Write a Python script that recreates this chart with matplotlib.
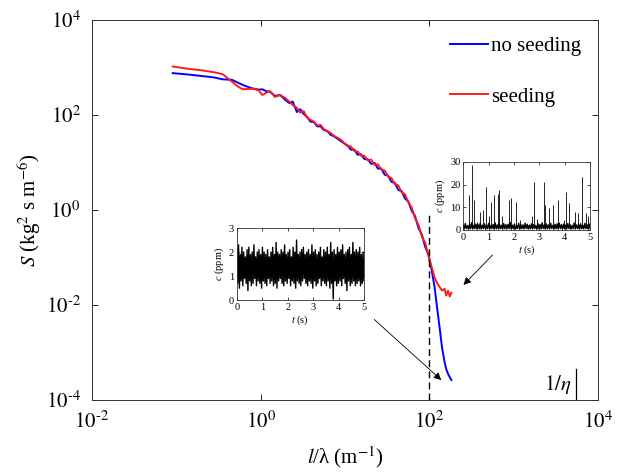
import numpy as np
import matplotlib
matplotlib.use('Agg')
import matplotlib.pyplot as plt
from matplotlib.ticker import FuncFormatter

plt.rcParams['font.family'] = ['Liberation Serif', 'DejaVu Serif']
plt.rcParams['mathtext.fontset'] = 'stix'
plt.rcParams['axes.unicode_minus'] = False

# spectrum: wavenumber and energy for both cases
k = [0.091, 0.141, 0.20, 0.28, 0.355, 0.457, 0.537, 0.617, 0.76, 0.91,
     1.05, 1.17, 1.29, 1.48, 1.70, 1.95, 2.19, 2.40, 2.69, 2.95,
     3.24, 3.55, 3.89, 4.27, 4.68, 5.13, 5.62, 6.17, 6.76, 7.41,
     8.13, 8.91, 9.77, 10.7, 11.7, 12.9, 14.1, 15.5, 17.0, 18.6,
     20.4, 22.4, 24.5, 26.9, 29.5, 32.4, 35.5, 38.9, 42.7, 46.8,
     51.3, 56.2, 61.7, 67.6, 74.1, 81.3, 89.1, 97.7, 107, 115,
     123, 132, 141, 151, 158, 166, 174, 182]
S_noseed = [759, 708, 661, 617, 562, 550, 479, 427, 372, 339,
            347, 316, 309, 251, 263, 209, 178, 191, 115, 132,
            105, 91.2, 72.4, 70.8, 57.5, 57.5, 47.9, 45.7, 38.0, 35.5,
            31.6, 28.2, 25.1, 22.9, 18.6, 18.6, 14.5, 14.8, 11.7, 11.7,
            9.33, 9.77, 7.41, 7.41, 5.50, 5.25, 3.89, 3.72, 2.63, 2.51,
            1.74, 1.51, 0.955, 0.741, 0.417, 0.302, 0.166, 0.112, 0.0501, 0.0240,
            0.00891, 0.00331, 0.00126, 6.31e-4, 4.47e-4, 3.55e-4, 3.02e-4, 2.63e-4]
S_seed = [1047, 933, 871, 794, 724, 501, 398, 347, 355, 355,
          263, 295, 316, 240, 263, 229, 191, 162, 141, 112,
          120, 87.1, 79.4, 72.4, 60.3, 61.7, 50.1, 45.7, 41.7, 36.3,
          33.1, 30.2, 25.7, 21.9, 21.9, 17.4, 17.0, 13.8, 13.8, 11.0,
          11.5, 8.91, 9.12, 7.08, 6.76, 5.01, 4.68, 3.47, 3.31, 2.34,
          2.14, 1.45, 1.12, 0.661, 0.490, 0.275, 0.204, 0.105, 0.0603, 0.0380,
          0.0288, 0.0240, 0.0200, 0.0219, 0.0158, 0.0200, 0.0151, 0.0182]

# inset time series (ppm)
c_noseed = [2.1, 0.7, 2.3, 0.5, 1.9, 0.8, 2.2, 0.6, 2.0, 0.9,
            1.8, 0.7, 2.1, 0.4, 2.2, 0.8, 1.9, 0.6, 2.0, 0.7,
            2.3, 0.9, 1.8, 0.6, 2.0, 0.8, 2.1, 0.7, 1.9, 0.5,
            2.2, 0.8, 2.0, 0.7, 1.9, 0.6, 2.1, 0.9, 1.8, 0.7,
            2.0, 0.8, 2.2, 0.6, 1.9, 0.7, 2.4, 0.5, 2.0, 0.8,
            1.9, 0.9, 2.1, 0.7, 2.0, 0.6, 2.3, 0.8, 1.9, 0.7,
            2.0, 0.9, 2.1, 0.6, 1.8, 0.8, 2.2, 0.7, 2.0, 0.5,
            2.5, 0.8, 1.9, 0.7, 2.0, 0.6, 2.1, 0.8, 2.2, 0.9,
            1.9, 0.7, 2.0, 0.6, 2.1, 0.8, 1.9, 0.7, 2.3, 0.5,
            2.0, 0.8, 2.1, 0.6, 1.9, 0.7, 2.0, 0.9, 2.2, 0.6,
            1.8, 0.8, 2.1, 0.7, 2.0, 0.6, 2.2, 0.8, 1.9, 0.5,
            2.4, 0.7, 2.0, 0.05, 2.1, 0.8, 1.9, 0.6, 2.2, 0.7,
            2.0, 0.8, 2.1, 0.6, 2.3, 0.9, 1.9, 0.7, 2.0, 0.4,
            2.1, 0.8, 2.2, 0.6, 1.9, 0.7, 2.4, 0.8, 2.0, 0.6,
            2.1, 0.7, 2.0, 0.8, 2.2, 0.6, 1.9, 0.7, 2.0, 0.8]
c_seed_base = [2.2, 0.4, 2.8, 0.6, 1.9, 0.3, 2.5, 0.5, 3.2, 0.4,
               2.0, 0.6, 2.6, 0.3, 2.3, 0.5, 3.0, 0.4, 2.1, 0.6,
               2.7, 0.3, 2.2, 0.5, 2.9, 0.4, 2.0, 0.6, 2.4, 0.3,
               3.1, 0.5, 2.2, 0.4, 2.6, 0.6, 2.0, 0.3, 2.8, 0.5,
               2.3, 0.4, 2.5, 0.6, 3.3, 0.3, 2.1, 0.5, 2.6, 0.4,
               2.0, 0.6, 2.9, 0.3, 2.4, 0.5, 2.2, 0.4, 3.0, 0.6,
               2.5, 0.3, 2.1, 0.5, 2.7, 0.4, 2.3, 0.6, 2.0, 0.3,
               2.8, 0.5, 2.4, 0.4, 3.2, 0.6, 2.1, 0.3, 2.6, 0.5,
               2.2, 0.4, 2.9, 0.6, 2.0, 0.3, 2.5, 0.5, 2.7, 0.4,
               3.0, 0.6, 2.3, 0.3, 2.6, 0.5, 2.1, 0.4, 2.8, 0.6,
               2.4, 0.3, 2.0, 0.5, 3.1, 0.4, 2.2, 0.6, 2.5, 0.3,
               2.7, 0.5, 2.1, 0.4, 2.9, 0.6, 2.3, 0.3, 2.6, 0.5]
spike_t = [0.22, 0.35, 0.42, 0.55, 0.65, 0.79, 0.88, 1.0, 1.11, 1.2,
           1.36, 1.43, 1.53, 1.82, 1.9, 2.08, 2.23, 2.71, 2.8, 2.9,
           3.17, 3.23, 3.36, 3.52, 3.73, 3.95, 4.04, 4.17, 4.41, 4.5,
           4.67, 4.83, 4.93]
spike_c = [15.4, 28.5, 13.0, 3.7, 8.0, 9.0, 19.0, 6.0, 12.4, 15.4,
           16.0, 17.5, 6.0, 13.0, 14.0, 12.4, 4.4, 6.0, 21.0, 5.0,
           21.2, 11.0, 9.5, 11.0, 13.0, 4.4, 16.8, 11.7, 8.0, 7.3,
           23.4, 7.3, 6.0]

k_eta = 5400

fig = plt.figure(figsize=(6.2, 4.75), dpi=100)
ax = fig.add_axes([0.148, 0.158, 0.817, 0.800])

ax.loglog(k, S_noseed, color='#0000ff', lw=1.4, label='no seeding')
ax.loglog(k, S_seed, color='#ff1a1a', lw=1.4, label='seeding')
ax.plot([100, 100], [1e-4, 0.9], 'k--', lw=1.0, dashes=(5, 3))
ax.plot([k_eta, k_eta], [1e-4, 4.5e-4], 'k-', lw=0.9)
ax.text(k_eta * 0.88, 2.1e-4, r'$1/\eta$', fontsize=15, ha='right', va='center')

ax.set_xlim(1e-2, 1e4)
ax.set_ylim(1e-4, 1e4)
ax.set_xticks([1e-2, 1e0, 1e2, 1e4])
ax.set_yticks([1e-4, 1e-2, 1e0, 1e2, 1e4])
ax.minorticks_off()
# hyphen-style exponent like the original figure
dec = FuncFormatter(lambda v, p: r'$10^{\text{-}%d}$' % round(-np.log10(v))
                    if v < 1 else r'$10^{%d}$' % round(np.log10(v)))
ax.xaxis.set_major_formatter(dec)
ax.yaxis.set_major_formatter(dec)
ax.tick_params(direction='in', top=True, right=True, length=4, width=0.6,
               labelsize=15, pad=8)
for sp in ax.spines.values():
    sp.set_linewidth(0.7)
    sp.set_color('#333333')

ax.set_xlabel('$l$/λ (m$^{-1}$)', fontsize=15, labelpad=8)
ax.set_ylabel('$S$ (kg$^2$ s m$^{-6}$)', fontsize=15, labelpad=2)

ax.legend(loc='upper left', bbox_to_anchor=(0.708, 0.957), frameon=False,
          fontsize=15, handlelength=1.8, handletextpad=0.15,
          labelspacing=1.5, borderpad=0, borderaxespad=0)

# arrows from insets to the curve ends
ax.annotate('', xy=(146, 2.4e-4), xytext=(21, 5.4e-3),
            arrowprops=dict(arrowstyle='-|>', color='k', lw=0.6, mutation_scale=11))
ax.annotate('', xy=(240, 0.024), xytext=(589, 0.124),
            arrowprops=dict(arrowstyle='-|>', color='k', lw=0.6, mutation_scale=11))

def style_inset(a, ymax, yticks):
    a.set_xlim(0, 5)
    a.set_ylim(0, ymax)
    a.set_xticks([0, 1, 2, 3, 4, 5])
    a.set_yticks(yticks)
    a.tick_params(direction='in', top=True, right=True, length=2, width=0.5,
                  labelsize=7.5, pad=2)
    for sp in a.spines.values():
        sp.set_linewidth(0.6)
        sp.set_color('#333333')
    a.set_xlabel('$t$ (s)', fontsize=7.5, labelpad=1)
    a.set_ylabel('$c$ (ppm)', fontsize=7.5, labelpad=2)

ins1 = fig.add_axes([0.382, 0.368, 0.205, 0.152])
ins1.plot(np.linspace(0, 5, len(c_noseed)), c_noseed, color='k', lw=1.0)
style_inset(ins1, 3, [0, 1, 2, 3])

ins2 = fig.add_axes([0.747, 0.516, 0.205, 0.143])
ins2.plot(np.linspace(0, 5, len(c_seed_base)), c_seed_base, color='k', lw=1.0)
ins2.vlines(spike_t, 1.0, spike_c, color='k', lw=0.6)
style_inset(ins2, 30, [0, 10, 20, 30])

fig.savefig('out.png', dpi=100)
